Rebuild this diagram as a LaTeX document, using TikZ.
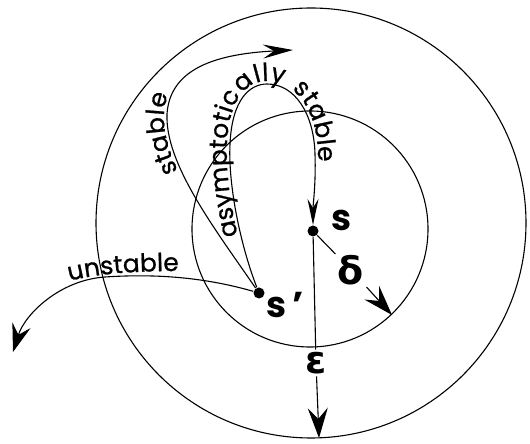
\documentclass[tikz,border=0pt]{standalone}
\usepackage{fontspec}
\setmainfont{Poppins}
\newfontfamily\curvefont[LetterSpace=6, FakeBold=0.8]{Poppins}
\newfontfamily\greekfont{DejaVu Sans}
\usetikzlibrary{arrows.meta, decorations.text}

\newcommand{\curvetext}{\curvefont\fontsize{25}{29}\selectfont}

\tikzset{
  orbit/.style={line width=1.1pt},
  fixpt/.style={circle, fill=black, inner sep=0pt, minimum size=11pt},
  ptlabel/.style={font=\bfseries\fontsize{36}{40}\selectfont},
  greek/.style={font=\greekfont\bfseries\fontsize{38}{42}\selectfont, inner sep=2pt},
  bigtip/.style={-{Stealth[length=30pt, width=20pt, inset=11pt]}},
  longtip/.style={-{Stealth[length=30pt, width=14pt, inset=11pt]}},
  slimtip/.style={-{Stealth[length=26pt, width=11pt, inset=9pt]}},
  shorttip/.style={-{Stealth[length=28pt, width=19pt, inset=10pt]}},
  curvelabel/.style 2 args={postaction={decorate, decoration={text along path,
      text={|\curvetext|#1}, text align={left indent=#2}, raise=3pt}}}
}

\begin{document}
\begin{tikzpicture}[x=1pt, y=1pt, orbit]
  \useasboundingbox (0,0) rectangle (530,444);
  % epsilon and delta neighbourhoods
  \draw (311,221) circle [radius=215pt];
  \draw (310,215) circle [radius=118pt];

  % equilibria
  \node[fixpt] (s) at (313,213) {};
  \node[fixpt] (sp) at (259,151) {};
  \node[ptlabel] (slabel) at (342,224) {s};
  \node[ptlabel] (splabel) at (285,139) {s\,’};

  % radii
  \node[greek] (eps) at (316,81) {ε};
  \node[greek] (delta) at (351,174) {δ};
  \coordinate (epsend) at (319,6);
  \coordinate (deltaend) at (392,129);
  \draw (s) -- (eps);
  \draw[bigtip] (eps) -- (epsend);
  \draw (s) -- (delta);
  \draw[bigtip] (delta) -- (deltaend);

  % trajectories leaving s'
  \coordinate (stabend) at (293,394);
  \coordinate (unstabend) at (13,92);
  \draw[longtip, curvelabel={stable}{140pt}]
    (sp) .. controls (215,215) and (165,280) .. (167,330)
         .. controls (170,375) and (215,390) .. (stabend);
  \draw[slimtip, curvelabel={asymptotically stable}{55pt}]
    (sp) .. controls (240,200) and (228,260) .. (230,300)
         .. controls (232,345) and (250,360) .. (267,360)
         .. controls (295,360) and (314,330) .. (315,290)
         .. controls (316,260) and (313,240) .. (s);
  \draw[shorttip] (sp) .. controls (200,168) and (150,170) .. (105,167)
         .. controls (60,164) and (25,130) .. (unstabend);
  \path[curvelabel={unstable}{0pt}]
    (70,160) .. controls (100,168) and (140,170) .. (185,170);
\end{tikzpicture}
\end{document}
